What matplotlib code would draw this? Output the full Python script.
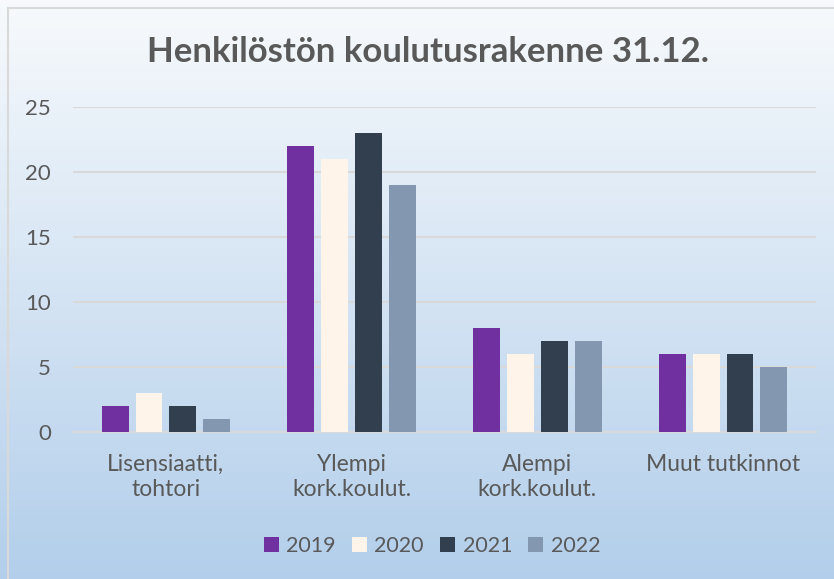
import matplotlib.pyplot as plt
import numpy as np
from matplotlib.patches import Rectangle

categories = ['Lisensiaatti,\ntohtori', 'Ylempi\nkork.koulut.', 'Alempi\nkork.koulut.', 'Muut tutkinnot']
years = ['2019', '2020', '2021', '2022']
v2019 = [2, 22, 8, 6]
v2020 = [3, 21, 6, 6]
v2021 = [2, 23, 7, 6]
v2022 = [1, 19, 7, 5]
colors = ['#7030A0', '#FEF4EA', '#323F4F', '#8497B0']

plt.rcParams['font.family'] = ['Lato', 'DejaVu Sans']
text_color = '#595959'

fig = plt.figure(figsize=(8.34, 5.79), dpi=100)

# gradient background of the chart area
bg = fig.add_axes([0, 0, 1, 1], zorder=0)
grad = np.linspace(0, 1, 256).reshape(-1, 1)
top = np.array([0.97, 0.98, 0.99])
bottom = np.array([0.70, 0.81, 0.92])
img = top + (bottom - top) * grad[:, :, None]
bg.imshow(img, aspect='auto', extent=[0, 1, 0, 1], origin='upper')
bg.add_patch(Rectangle((8 / 834, -0.01), 1.0, (579 - 8) / 579 + 0.01, fill=False,
                       edgecolor='#D9D9D9', linewidth=1.5))
bg.set_xlim(0, 1)
bg.set_ylim(0, 1)
bg.axis('off')

ax = fig.add_axes([73 / 834, (579 - 432) / 579, (816 - 73) / 834, (432 - 107) / 579], zorder=1)
ax.patch.set_alpha(0)

x = np.arange(len(categories))
width = 0.145
step = 0.182
series = [v2019, v2020, v2021, v2022]
for i, (vals, c, yr) in enumerate(zip(series, colors, years)):
    ax.bar(x + (i - 1.5) * step, vals, width, color=c, label=yr, zorder=3)

ax.set_xlim(-0.5, len(categories) - 0.5)
ax.set_ylim(0, 25)
ax.set_yticks([0, 5, 10, 15, 20, 25])
ax.grid(axis='y', color='#D9D9D9', linewidth=1.5, zorder=0)
ax.set_xticks(x)
ax.set_xticklabels(categories, fontsize=16.5, color=text_color, linespacing=1.2)
ax.tick_params(axis='y', labelsize=16, labelcolor=text_color, length=0, pad=16)
ax.tick_params(axis='x', length=0, pad=16)
for s in ['top', 'right', 'left']:
    ax.spines[s].set_visible(False)
ax.spines['bottom'].set_color('#D9D9D9')
ax.spines['bottom'].set_linewidth(1.5)

fig.text(0.513, 1 - 52 / 579, 'Henkilöstön koulutusrakenne 31.12.', ha='center', va='center',
         fontsize=25, fontweight='bold', color=text_color)

leg = fig.legend(loc='center', bbox_to_anchor=(432 / 834, 1 - 546 / 579), ncol=4, frameon=False,
                 fontsize=15.5, handlelength=0.7, handleheight=0.7, handletextpad=0.35,
                 columnspacing=0.75, labelcolor=text_color)

fig.savefig('out.png', dpi=100)
